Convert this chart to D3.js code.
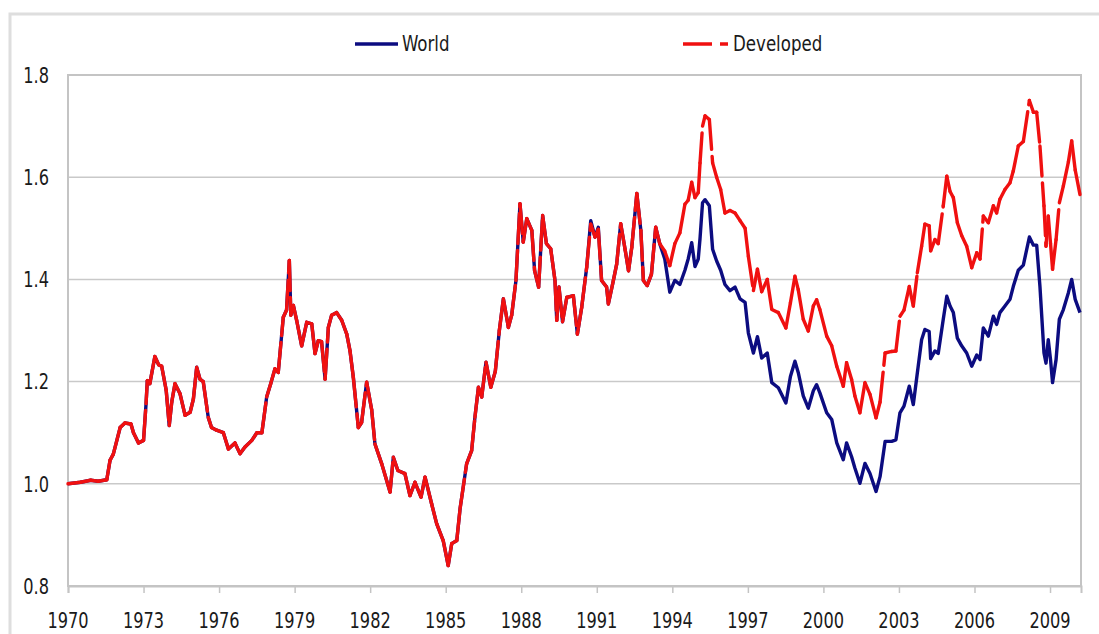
<!DOCTYPE html>
<html>
<head>
<meta charset="utf-8">
<script src="https://cdn.jsdelivr.net/npm/d3@7/dist/d3.min.js"></script>
<style>
  html, body { margin: 0; padding: 0; background: #fff; }
  svg { display: block; }
  text { font-family: "DejaVu Sans Condensed", "DejaVu Sans", sans-serif; font-stretch: condensed; fill: #1a1a1a; }
</style>
</head>
<body>
<svg id="chart" width="1099" height="634"></svg>
<script>
// ---------- data ----------
const seriesNames = ["World", "Developed"];
const xTickLabels = [1970, 1973, 1976, 1979, 1982, 1985, 1988, 1991, 1994, 1997, 2000, 2003, 2006, 2009];
const yTickLabels = [0.8, 1.0, 1.2, 1.4, 1.6, 1.8];

const dates = [
  1970.00, 1970.50, 1970.90, 1971.20, 1971.54, 1971.67, 1971.80, 1972.07, 1972.26, 1972.50,
  1972.60, 1972.80, 1973.00, 1973.10, 1973.15, 1973.25, 1973.45, 1973.60, 1973.72, 1973.90,
  1974.02, 1974.12, 1974.25, 1974.45, 1974.65, 1974.85, 1974.98, 1975.11, 1975.24, 1975.37,
  1975.57, 1975.70, 1975.90, 1976.17, 1976.37, 1976.63, 1976.83, 1977.03, 1977.30, 1977.50,
  1977.70, 1977.89, 1978.05, 1978.22, 1978.35, 1978.55, 1978.68, 1978.79, 1978.85, 1978.95,
  1979.08, 1979.28, 1979.48, 1979.68, 1979.81, 1979.94, 1980.07, 1980.21, 1980.34, 1980.47,
  1980.67, 1980.87, 1981.07, 1981.20, 1981.33, 1981.53, 1981.66, 1981.86, 1982.06, 1982.19,
  1982.46, 1982.79, 1982.92, 1983.10, 1983.38, 1983.58, 1983.78, 1984.02, 1984.18, 1984.44,
  1984.64, 1984.90, 1985.10, 1985.24, 1985.44, 1985.57, 1985.83, 1986.03, 1986.16, 1986.30,
  1986.43, 1986.60, 1986.79, 1986.97, 1987.13, 1987.29, 1987.49, 1987.62, 1987.79, 1987.95,
  1988.08, 1988.22, 1988.42, 1988.53, 1988.69, 1988.85, 1989.00, 1989.17, 1989.34, 1989.41,
  1989.50, 1989.64, 1989.81, 1990.07, 1990.23, 1990.40, 1990.60, 1990.76, 1990.93, 1991.06,
  1991.19, 1991.39, 1991.46, 1991.66, 1991.79, 1991.95, 1992.13, 1992.26, 1992.39, 1992.59,
  1992.75, 1992.85, 1993.00, 1993.17, 1993.34, 1993.50, 1993.70, 1993.90, 1994.10, 1994.30,
  1994.50, 1994.63, 1994.77, 1994.90, 1995.03, 1995.10, 1995.20, 1995.30, 1995.47, 1995.60,
  1995.76, 1995.92, 1996.09, 1996.29, 1996.49, 1996.69, 1996.89, 1997.02, 1997.22, 1997.38,
  1997.55, 1997.77, 1997.95, 1998.21, 1998.51, 1998.69, 1998.87, 1999.00, 1999.20, 1999.40,
  1999.60, 1999.73, 1999.86, 2000.13, 2000.33, 2000.53, 2000.79, 2000.92, 2001.12, 2001.25,
  2001.45, 2001.65, 2001.85, 2002.09, 2002.25, 2002.45, 2002.71, 2002.88, 2003.04, 2003.20,
  2003.41, 2003.57, 2003.73, 2003.90, 2004.03, 2004.20, 2004.26, 2004.43, 2004.56, 2004.76,
  2004.90, 2005.03, 2005.16, 2005.32, 2005.49, 2005.69, 2005.89, 2006.09, 2006.22, 2006.35,
  2006.55, 2006.75, 2006.88, 2007.01, 2007.21, 2007.41, 2007.54, 2007.74, 2007.94, 2008.18,
  2008.34, 2008.47, 2008.60, 2008.76, 2008.84, 2008.93, 2009.02, 2009.10, 2009.24, 2009.37,
  2009.53, 2009.73, 2009.86, 2010.00, 2010.19
];

const world = [
  1.000, 1.003, 1.007, 1.005, 1.008, 1.046, 1.058, 1.110, 1.119, 1.117,
  1.100, 1.080, 1.085, 1.157, 1.202, 1.196, 1.249, 1.233, 1.230, 1.183,
  1.114, 1.160, 1.196, 1.176, 1.134, 1.140, 1.166, 1.228, 1.205, 1.200,
  1.130, 1.110, 1.105, 1.100, 1.068, 1.080, 1.059, 1.072, 1.085, 1.100,
  1.100, 1.170, 1.196, 1.225, 1.218, 1.326, 1.340, 1.437, 1.330, 1.349,
  1.320, 1.270, 1.316, 1.313, 1.255, 1.280, 1.278, 1.205, 1.306, 1.330,
  1.335, 1.320, 1.293, 1.260, 1.209, 1.110, 1.120, 1.199, 1.145, 1.078,
  1.039, 0.984, 1.052, 1.026, 1.020, 0.977, 1.003, 0.974, 1.013, 0.961,
  0.922, 0.889, 0.840, 0.883, 0.889, 0.951, 1.039, 1.065, 1.130, 1.189,
  1.170, 1.238, 1.189, 1.220, 1.300, 1.362, 1.306, 1.330, 1.398, 1.548,
  1.473, 1.519, 1.496, 1.417, 1.385, 1.525, 1.470, 1.460, 1.398, 1.320,
  1.385, 1.317, 1.365, 1.368, 1.293, 1.345, 1.424, 1.515, 1.483, 1.502,
  1.398, 1.385, 1.352, 1.398, 1.430, 1.509, 1.457, 1.417, 1.463, 1.568,
  1.496, 1.398, 1.388, 1.410, 1.502, 1.470, 1.440, 1.375, 1.398, 1.390,
  1.418, 1.440, 1.472, 1.425, 1.440, 1.480, 1.550, 1.556, 1.544, 1.459,
  1.436, 1.418, 1.390, 1.378, 1.385, 1.362, 1.355, 1.295, 1.256, 1.288,
  1.246, 1.256, 1.198, 1.188, 1.158, 1.210, 1.240, 1.218, 1.172, 1.148,
  1.182, 1.194, 1.178, 1.139, 1.126, 1.080, 1.047, 1.080, 1.053, 1.031,
  1.001, 1.040, 1.020, 0.985, 1.014, 1.083, 1.083, 1.086, 1.139, 1.152,
  1.191, 1.155, 1.217, 1.282, 1.302, 1.298, 1.245, 1.260, 1.255, 1.322,
  1.367, 1.348, 1.335, 1.285, 1.270, 1.256, 1.230, 1.252, 1.243, 1.305,
  1.289, 1.328, 1.312, 1.335, 1.348, 1.361, 1.386, 1.418, 1.428, 1.483,
  1.467, 1.467, 1.386, 1.256, 1.236, 1.282, 1.243, 1.198, 1.243, 1.322,
  1.341, 1.374, 1.400, 1.361, 1.335
];

const developed = [
  1.000, 1.003, 1.007, 1.005, 1.008, 1.046, 1.058, 1.110, 1.119, 1.117,
  1.100, 1.080, 1.085, 1.157, 1.202, 1.196, 1.249, 1.233, 1.230, 1.183,
  1.114, 1.160, 1.196, 1.176, 1.134, 1.140, 1.166, 1.228, 1.205, 1.200,
  1.130, 1.110, 1.105, 1.100, 1.068, 1.080, 1.059, 1.072, 1.085, 1.100,
  1.100, 1.170, 1.196, 1.225, 1.218, 1.326, 1.340, 1.437, 1.330, 1.349,
  1.320, 1.270, 1.316, 1.313, 1.255, 1.280, 1.278, 1.205, 1.306, 1.330,
  1.335, 1.320, 1.293, 1.260, 1.209, 1.110, 1.120, 1.199, 1.145, 1.078,
  1.039, 0.984, 1.052, 1.026, 1.020, 0.977, 1.003, 0.974, 1.013, 0.961,
  0.922, 0.889, 0.840, 0.883, 0.889, 0.951, 1.039, 1.065, 1.130, 1.189,
  1.170, 1.238, 1.189, 1.220, 1.300, 1.362, 1.306, 1.330, 1.398, 1.548,
  1.473, 1.519, 1.496, 1.417, 1.385, 1.525, 1.470, 1.460, 1.398, 1.320,
  1.385, 1.317, 1.365, 1.368, 1.293, 1.345, 1.424, 1.508, 1.483, 1.498,
  1.398, 1.385, 1.352, 1.398, 1.430, 1.509, 1.457, 1.417, 1.463, 1.568,
  1.496, 1.398, 1.388, 1.410, 1.502, 1.470, 1.455, 1.427, 1.470, 1.491,
  1.547, 1.555, 1.590, 1.560, 1.570, 1.628, 1.700, 1.720, 1.713, 1.628,
  1.600, 1.576, 1.530, 1.535, 1.530, 1.515, 1.500, 1.445, 1.378, 1.420,
  1.376, 1.400, 1.341, 1.335, 1.305, 1.354, 1.406, 1.380, 1.322, 1.299,
  1.348, 1.360, 1.341, 1.289, 1.270, 1.230, 1.191, 1.237, 1.204, 1.172,
  1.139, 1.198, 1.175, 1.129, 1.160, 1.256, 1.259, 1.260, 1.328, 1.340,
  1.386, 1.348, 1.413, 1.465, 1.508, 1.505, 1.456, 1.478, 1.470, 1.544,
  1.602, 1.572, 1.560, 1.511, 1.486, 1.465, 1.423, 1.452, 1.440, 1.524,
  1.511, 1.544, 1.530, 1.557, 1.576, 1.589, 1.612, 1.661, 1.670, 1.750,
  1.727, 1.727, 1.661, 1.544, 1.465, 1.524, 1.470, 1.420, 1.478, 1.550,
  1.583, 1.630, 1.671, 1.614, 1.566
];

// ---------- layout ----------
const svg = d3.select("#chart");
const plot = { left: 68, right: 1081, top: 75, bottom: 586 };
const x = d3.scaleLinear().domain([1970, 2010.23]).range([plot.left, plot.right]);
const y = d3.scaleLinear().domain([0.8, 1.8]).range([plot.bottom, plot.top]);
const navy = "#0c0c80";
const red = "#f01010";
const gridColor = "#c9c9c9";
const textScale = 1.18;

// outer frame
svg.append("rect").attr("x", 10).attr("y", 14).attr("width", 1200).attr("height", 700)
  .attr("fill", "none").attr("stroke", "#dedede").attr("stroke-width", 3);

// grid lines
svg.append("g").selectAll("line").data(yTickLabels.slice(1, -1)).join("line")
  .attr("x1", plot.left).attr("x2", plot.right)
  .attr("y1", d => y(d)).attr("y2", d => y(d))
  .attr("stroke", gridColor).attr("stroke-width", 1.5);

// plot border
svg.append("rect").attr("x", plot.left).attr("y", plot.top)
  .attr("width", plot.right - plot.left).attr("height", plot.bottom - plot.top)
  .attr("fill", "none").attr("stroke", "#c4c4c4").attr("stroke-width", 2);

// x ticks
const xAxis = d3.axisBottom(x).tickValues(xTickLabels).tickSize(7).tickFormat("");
const gx = svg.append("g").attr("transform", `translate(0,${plot.bottom})`).call(xAxis);
gx.select(".domain").attr("stroke", "#c4c4c4").attr("stroke-width", 2);
gx.selectAll(".tick line").attr("stroke", "#c4c4c4").attr("stroke-width", 1.5);

// x labels
svg.append("g").selectAll("text").data(xTickLabels).join("text")
  .attr("transform", d => `translate(${x(d)},628) scale(1,${textScale})`)
  .attr("text-anchor", "middle").attr("font-size", 18)
  .text(d => d);

// y labels
svg.append("g").selectAll("text").data(yTickLabels).join("text")
  .attr("transform", d => `translate(49,${y(d) + 7.7}) scale(1,${textScale})`)
  .attr("text-anchor", "end").attr("font-size", 18)
  .text(d => d3.format(".1f")(d));

// World line
const line = d3.line().x((d, i) => x(dates[i])).y(d => y(d));
svg.append("path").datum(world)
  .attr("d", line)
  .attr("fill", "none").attr("stroke", navy).attr("stroke-width", 3.4)
  .attr("stroke-linejoin", "round");

// Developed line: long-dash style, dash pattern restarting on every segment
const segs = d3.pairs(d3.range(developed.length));
svg.append("g").selectAll("path").data(segs).join("path")
  .attr("d", ([a, b]) => `M${x(dates[a])},${y(developed[a])}L${x(dates[b])},${y(developed[b])}`)
  .attr("fill", "none").attr("stroke", red).attr("stroke-width", 3.4)
  .attr("stroke-linecap", "round")
  .attr("stroke-dasharray", "30,7");

// legend
const lg = svg.append("g");
lg.append("line").attr("x1", 355).attr("x2", 398).attr("y1", 44).attr("y2", 44)
  .attr("stroke", navy).attr("stroke-width", 3.5);
lg.append("text").attr("transform", `translate(402,50.5) scale(1,${textScale})`)
  .attr("font-size", 18.5).text(seriesNames[0]);
lg.append("line").attr("x1", 683).attr("x2", 728).attr("y1", 44).attr("y2", 44)
  .attr("stroke", red).attr("stroke-width", 3.5).attr("stroke-dasharray", "29,8");
lg.append("text").attr("transform", `translate(733,50.5) scale(1,${textScale})`)
  .attr("font-size", 18.5).text(seriesNames[1]);
</script>
</body>
</html>
